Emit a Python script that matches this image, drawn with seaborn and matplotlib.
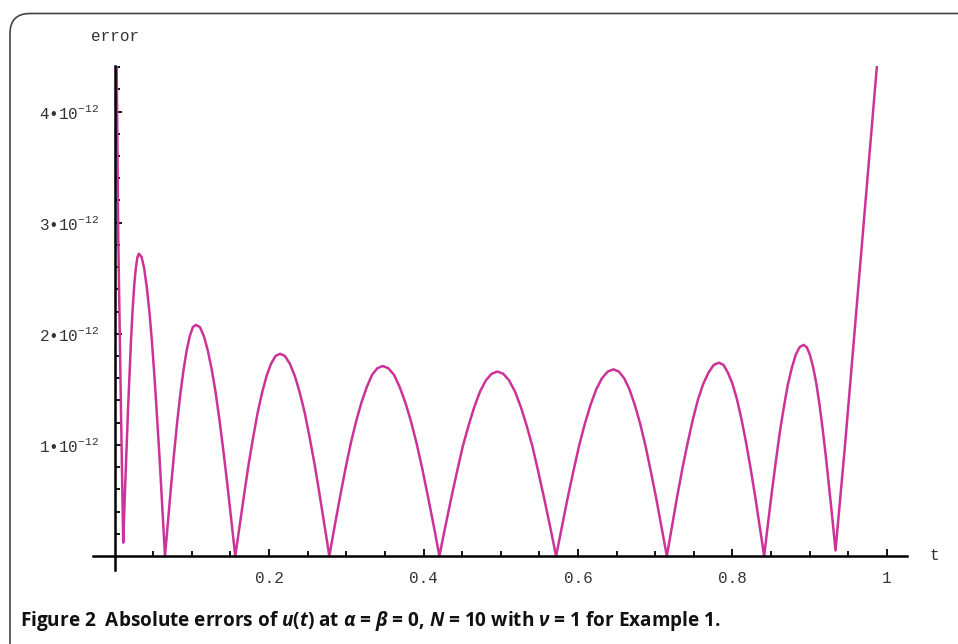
import numpy as np
import matplotlib
matplotlib.use('Agg')
import matplotlib.pyplot as plt
from matplotlib.patches import FancyBboxPatch
from matplotlib.ticker import FuncFormatter
import seaborn as sns

# absolute error |u(t) - u_N(t)| (units of 1e-12)
t_vals = [0.0, 0.0026, 0.0047, 0.0080, 0.0111,
          0.0131, 0.0152, 0.0172, 0.0193, 0.0213, 0.0233, 0.0254, 0.0274, 0.0295, 0.0315,
          0.0349, 0.0382, 0.0416, 0.0450, 0.0484, 0.0517, 0.0551, 0.0585, 0.0618, 0.0652,
          0.0692, 0.0732, 0.0772, 0.0812, 0.0853, 0.0893, 0.0933, 0.0973, 0.1013, 0.1053,
          0.1104, 0.1155, 0.1206, 0.1257, 0.1308, 0.1358, 0.1409, 0.1460, 0.1511, 0.1562,
          0.1620, 0.1678, 0.1736, 0.1794, 0.1852, 0.1909, 0.1967, 0.2025, 0.2083, 0.2141,
          0.2205, 0.2269, 0.2333, 0.2397, 0.2461, 0.2524, 0.2588, 0.2652, 0.2716, 0.2780,
          0.2849, 0.2918, 0.2987, 0.3056, 0.3126, 0.3195, 0.3264, 0.3333, 0.3402, 0.3471,
          0.3544, 0.3618, 0.3691, 0.3765, 0.3838, 0.3911, 0.3985, 0.4058, 0.4132, 0.4205,
          0.4280, 0.4355, 0.4430, 0.4505, 0.4581, 0.4656, 0.4731, 0.4806, 0.4881, 0.4956,
          0.5032, 0.5108, 0.5184, 0.5260, 0.5336, 0.5412, 0.5488, 0.5564, 0.5640, 0.5716,
          0.5790, 0.5865, 0.5939, 0.6013, 0.6088, 0.6162, 0.6236, 0.6310, 0.6385, 0.6459,
          0.6528, 0.6597, 0.6666, 0.6735, 0.6805, 0.6874, 0.6943, 0.7012, 0.7081, 0.7150,
          0.7217, 0.7285, 0.7352, 0.7420, 0.7487, 0.7554, 0.7622, 0.7689, 0.7757, 0.7824,
          0.7883, 0.7941, 0.8000, 0.8058, 0.8117, 0.8176, 0.8234, 0.8293, 0.8351, 0.8410,
          0.8461, 0.8512, 0.8563, 0.8614, 0.8665, 0.8716, 0.8767, 0.8818, 0.8869, 0.8920,
          0.8961, 0.9003, 0.9044, 0.9086, 0.9127, 0.9168, 0.9210, 0.9251, 0.9293, 0.9334,
          0.9460, 0.9600, 0.9740, 0.9870, 0.9930]

err_e12 = [6.40, 4.41, 2.85, 1.40, 0.12,
           0.53, 0.92, 1.30, 1.65, 1.96, 2.22, 2.44, 2.59, 2.69, 2.72,
           2.69, 2.59, 2.42, 2.20, 1.92, 1.60, 1.23, 0.84, 0.42, 0.00,
           0.32, 0.64, 0.94, 1.22, 1.47, 1.68, 1.85, 1.98, 2.06, 2.08,
           2.06, 1.98, 1.85, 1.68, 1.47, 1.22, 0.94, 0.64, 0.32, 0.00,
           0.28, 0.56, 0.83, 1.07, 1.29, 1.47, 1.62, 1.73, 1.80, 1.82,
           1.80, 1.73, 1.62, 1.47, 1.29, 1.07, 0.83, 0.56, 0.28, 0.00,
           0.27, 0.53, 0.78, 1.01, 1.21, 1.38, 1.52, 1.63, 1.69, 1.71,
           1.69, 1.63, 1.52, 1.38, 1.21, 1.01, 0.78, 0.53, 0.27, 0.00,
           0.26, 0.51, 0.75, 0.98, 1.17, 1.34, 1.48, 1.58, 1.64, 1.66,
           1.64, 1.58, 1.48, 1.34, 1.17, 0.98, 0.75, 0.51, 0.26, 0.00,
           0.26, 0.52, 0.76, 0.99, 1.19, 1.36, 1.50, 1.60, 1.66, 1.68,
           1.66, 1.60, 1.50, 1.36, 1.19, 0.99, 0.76, 0.52, 0.26, 0.00,
           0.27, 0.54, 0.79, 1.02, 1.23, 1.41, 1.55, 1.65, 1.72, 1.74,
           1.72, 1.65, 1.55, 1.41, 1.23, 1.02, 0.79, 0.54, 0.27, 0.00,
           0.30, 0.59, 0.86, 1.12, 1.34, 1.54, 1.69, 1.81, 1.88, 1.90,
           1.88, 1.81, 1.70, 1.55, 1.36, 1.14, 0.89, 0.62, 0.34, 0.05,
           1.02, 2.18, 3.33, 4.41, 4.95]

x_major = [0.2, 0.4, 0.6, 0.8, 1.0]
x_major_labels = ['0.2', '0.4', '0.6', '0.8', '1']
y_major = [1e-12, 2e-12, 3e-12, 4e-12]

caption = ('Figure 2  Absolute errors of $u$($t$) at $\\alpha$ = $\\beta$ = 0, '
           '$N$ = 10 with $\\nu$ = 1 for Example 1.')

sns.set_style('white')
plt.rcParams['font.family'] = ['Liberation Mono', 'DejaVu Sans']
plt.rcParams['mathtext.fontset'] = 'custom'
plt.rcParams['mathtext.rm'] = 'Liberation Mono'
plt.rcParams['mathtext.it'] = 'Open Sans:italic:bold'
plt.rcParams['mathtext.bf'] = 'Open Sans:bold'

fig = plt.figure(figsize=(9.58, 6.44), dpi=100)
ax = fig.add_axes([0.0971, 0.1149, 0.8497, 0.7826])

err = np.array(err_e12) * 1e-12
sns.lineplot(x=t_vals, y=err, ax=ax, color='#cc3399', linewidth=1.8)

ax.set_xlim(-0.028, 1.026)
ax.set_ylim(-0.126e-12, 4.41e-12)

for s in ['top', 'right']:
    ax.spines[s].set_visible(False)
for s in ['left', 'bottom']:
    ax.spines[s].set_position(('data', 0))
    ax.spines[s].set_linewidth(1.8)
    ax.spines[s].set_color('black')

ax.set_xticks(x_major, labels=x_major_labels)
ax.set_xticks([k * 0.05 for k in range(1, 20) if k % 4], minor=True)
ax.set_yticks(y_major)
ax.set_yticks([k * 0.2e-12 for k in range(1, 23) if k % 5], minor=True)
ax.yaxis.set_major_formatter(FuncFormatter(lambda v, p: '%d\u202210$^{-12}$' % round(v / 1e-12)))

ax.tick_params(which='both', direction='in', color='black', width=1.3,
               bottom=True, left=True, labelsize=11.5, labelcolor='#333333')
ax.tick_params(which='major', length=5)
ax.tick_params(which='minor', length=3.5)
ax.tick_params(axis='x', which='major', pad=11)
ax.tick_params(axis='y', which='major', pad=11)

ax.set_ylabel('error', rotation=0, fontsize=11.5, color='#333333', ha='center', va='center')
ax.yaxis.set_label_coords(0.0266, 1.0595)
ax.set_xlabel('t', fontsize=11.5, color='#333333', ha='center', va='center')
ax.xaxis.set_label_coords(1.033, 0.0278)

# rounded frame around the figure panel
frame = FancyBboxPatch((0.10, -1.0), 12.0, 7.305, boxstyle='round,pad=0,rounding_size=0.2',
                       transform=fig.dpi_scale_trans, fill=False, ec='#444444', lw=1.2)
fig.patches.append(frame)

fig.text(20 / 958, 0.0357, caption, family='Open Sans', weight='bold', fontsize=13.7,
         ha='left', va='center', color='#111111')

plt.savefig('out.png', dpi=100)
